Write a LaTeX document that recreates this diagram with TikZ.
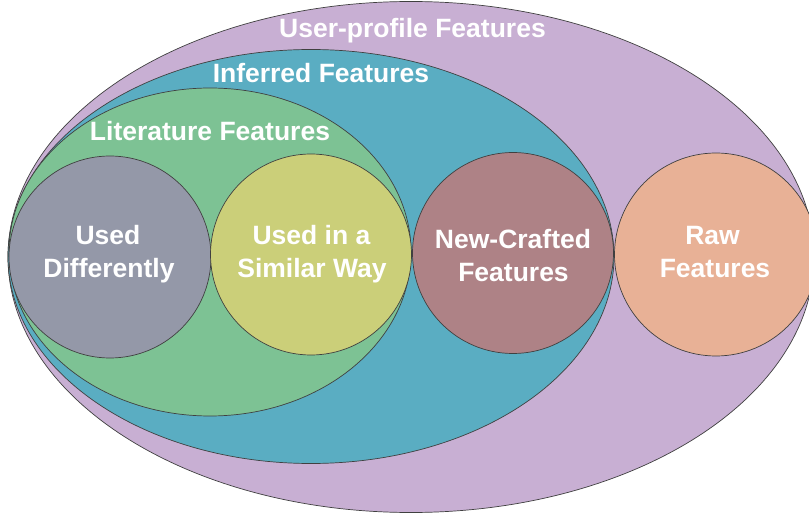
\documentclass[tikz,border=0pt]{standalone}
\usepackage{fontspec}
\setmainfont{Liberation Sans}
\usetikzlibrary{shapes.geometric}
\definecolor{cUser}{RGB}{200,175,211}
\definecolor{cInf}{RGB}{90,173,194}
\definecolor{cLit}{RGB}{125,194,148}
\definecolor{cDiff}{RGB}{148,152,168}
\definecolor{cSim}{RGB}{203,207,121}
\definecolor{cNew}{RGB}{174,130,134}
\definecolor{cRaw}{RGB}{232,177,150}
\definecolor{edge}{RGB}{64,64,64}
\tikzset{
  region/.style={draw=edge, line width=0.7pt, inner sep=0pt, outer sep=0pt},
  oval/.style={region, ellipse},
  disc/.style={region, circle},
  lbl/.style={text=white, inner sep=0pt, anchor=base, font=\fontsize{26.5}{33}\selectfont\bfseries},
}
\begin{document}
\begin{tikzpicture}[x=1pt,y=-1pt]
\useasboundingbox (0,0) rectangle (809,513);
\clip (0,0) rectangle (809,513);
% regions
\node[oval, fill=cUser, minimum width=806pt, minimum height=511pt] (user) at (411,257) {};
\node[oval, fill=cInf, minimum width=606pt, minimum height=414pt] (inf) at (311,256.5) {};
\node[oval, fill=cLit, minimum width=402pt, minimum height=328pt] (lit) at (210,252) {};
\node[disc, fill=cDiff, minimum size=202pt] (diff) at (110,257) {};
\node[disc, fill=cSim, minimum size=201pt] (sim) at (311,254.5) {};
\node[disc, fill=cNew, minimum size=201pt] (new) at (513,253) {};
\node[disc, fill=cRaw, minimum size=203pt] (raw) at (716,254.5) {};
% labels
\node[lbl] (tuser) at (412.5,37.7) {User-profile Features};
\node[lbl] (tinf) at (321,82.3) {Inferred Features};
\node[lbl] (tlit) at (210,140.3) {Literature Features};
\node[lbl] (tdiffa) at (108,245) {Used};
\node[lbl] (tdiffb) at (109,278) {Differently};
\node[lbl] (tsima) at (311.5,245) {Used in a};
\node[lbl] (tsimb) at (312,278) {Similar Way};
\node[lbl] (tnewa) at (513,249) {New-Crafted};
\node[lbl] (tnewb) at (513.5,282) {Features};
\node[lbl] (trawa) at (712.5,245) {Raw};
\node[lbl] (trawb) at (715,278) {Features};
\end{tikzpicture}
\end{document}
